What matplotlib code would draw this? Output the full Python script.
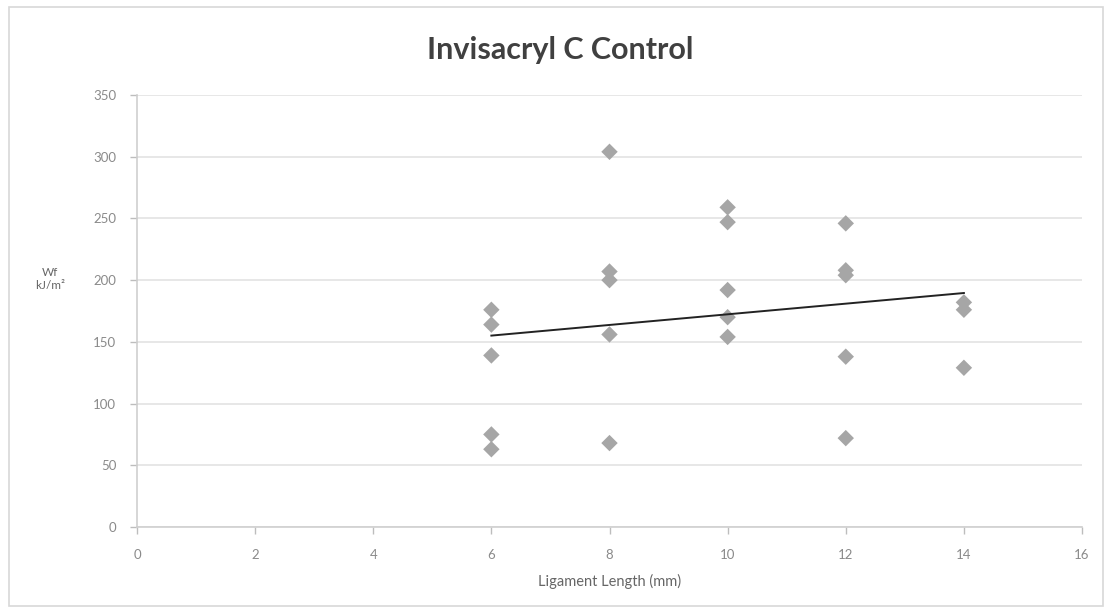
import numpy as np
import matplotlib
matplotlib.use('Agg')
import matplotlib.pyplot as plt
from matplotlib.patches import Rectangle

# Data
ligament_mm = [6, 6, 6, 6, 6,
               8, 8, 8, 8, 8,
               10, 10, 10, 10, 10,
               12, 12, 12, 12, 12,
               14, 14, 14]
wf_kj = [176, 164, 139, 75, 63,
         304, 207, 200, 156, 68,
         259, 247, 192, 170, 154,
         246, 208, 204, 138, 72,
         182, 176, 129]
x_ticks = [0, 2, 4, 6, 8, 10, 12, 14, 16]
y_ticks = [0, 50, 100, 150, 200, 250, 300, 350]

plt.rcParams['font.family'] = ['Lato', 'DejaVu Sans']

fig = plt.figure(figsize=(11.1, 6.13), dpi=100)
ax = fig.add_axes([0.1234, 0.1403, 0.8514, 0.7047])

# chart border
fig.patches.append(Rectangle((0.008, 0.012), 0.986, 0.976, transform=fig.transFigure,
                             fill=False, edgecolor='#d8d8d8', linewidth=1.2))

ax.scatter(ligament_mm, wf_kj, marker='D', s=70, color='#a6a6a6', edgecolor='none', zorder=3)

# linear trendline
slope, intercept = np.polyfit(ligament_mm, wf_kj, 1)
xs = np.array([min(ligament_mm), max(ligament_mm)])
ax.plot(xs, slope * xs + intercept, color='#222222', linewidth=1.4, zorder=4)

ax.set_xlim(0, 16)
ax.set_ylim(0, 350)
ax.set_xticks(x_ticks)
ax.set_yticks(y_ticks)
ax.tick_params(axis='both', colors='#bdbdbd', labelcolor='#8a8a8a', labelsize=9.5, length=5, width=1)
ax.tick_params(axis='x', pad=11)
ax.tick_params(axis='y', pad=10)
ax.yaxis.grid(True, color='#e3e3e3', linewidth=1.2)
ax.set_axisbelow(True)
for side in ['top', 'right']:
    ax.spines[side].set_visible(False)
for side in ['left', 'bottom']:
    ax.spines[side].set_color('#cfcfcf')
    ax.spines[side].set_linewidth(1.2)

# title is centred on the whole chart, not the plot area
fig.text(0.505, 0.918, 'Invisacryl C Control', fontsize=22, fontweight='bold', color='#404040',
         ha='center', va='center')
ax.set_xlabel('Ligament Length (mm)', fontsize=10.5, color='#666666', labelpad=9)
fig.text(0.045, 0.545, 'Wf\nkJ/m²', fontsize=8.5, color='#666666', ha='center', va='center',
         linespacing=1.3)

fig.savefig('out.png', dpi=100)
